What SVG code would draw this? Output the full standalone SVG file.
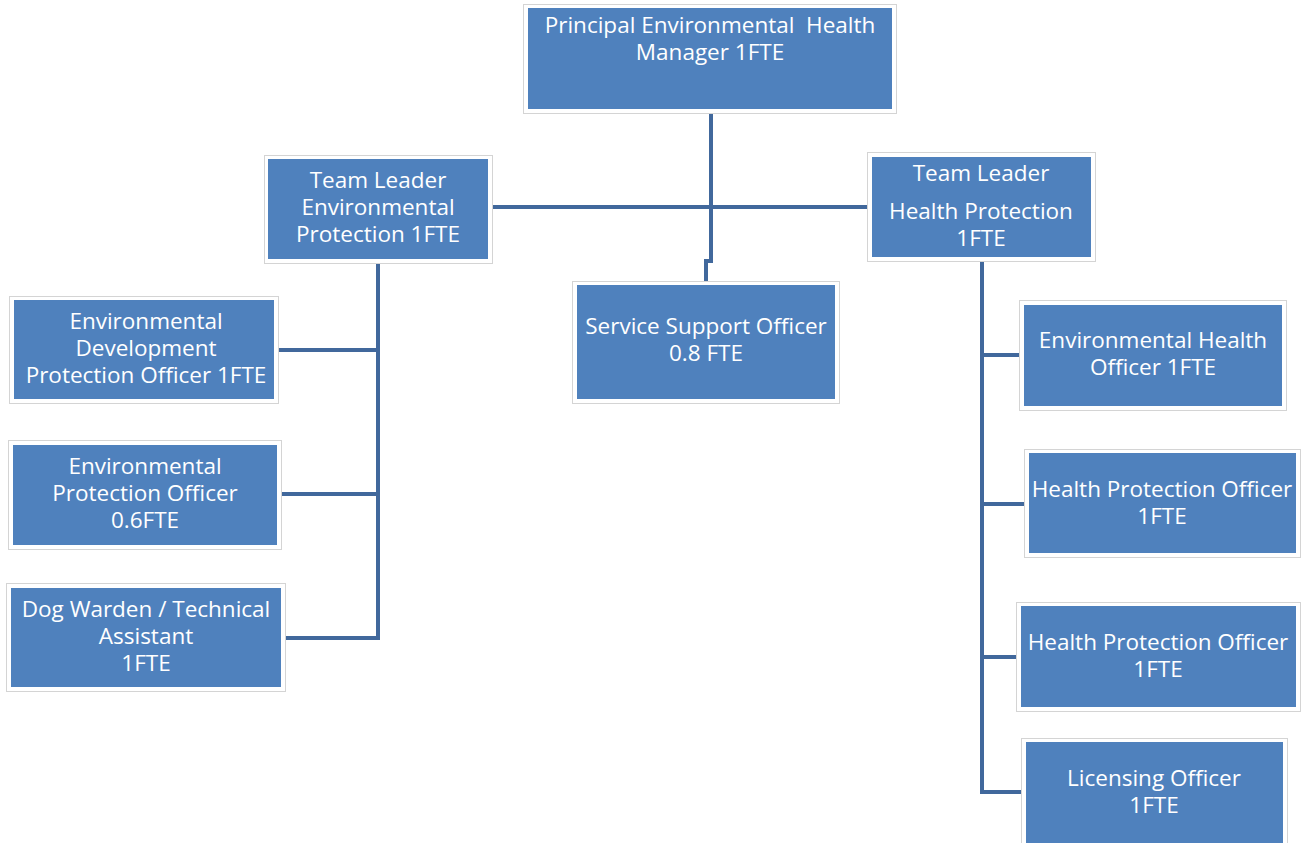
<svg xmlns="http://www.w3.org/2000/svg" width="1307" height="843" viewBox="0 0 1307 843">
<style>
.frame{fill:#fff;stroke:#d4d4d4;stroke-width:1}
.box{fill:#4f81bd}
.t{font-family:"Open Sans","Liberation Sans",sans-serif;font-size:22.5px;fill:#fff;text-anchor:middle}
.c{fill:none;stroke:#41689c;stroke-width:4;stroke-linejoin:miter}
</style>
<rect width="1307" height="843" fill="#fff"/>
<g id="connectors">
<path class="c" d="M711 113 V261 H706 V281"/>
<path class="c" d="M492 207 H867"/>
<path class="c" d="M378 263 V638 H285"/>
<path class="c" d="M278 350 H378"/>
<path class="c" d="M281 494 H378"/>
<path class="c" d="M982 261 V792 H1021"/>
<path class="c" d="M982 355 H1019"/>
<path class="c" d="M982 504 H1024"/>
<path class="c" d="M982 657 H1016"/>
</g>
<g id="principal">
<rect class="frame" x="523.5" y="4.5" width="373" height="109"/>
<rect class="box" x="528" y="8" width="364" height="101"/>
<text class="t" x="710" y="33" xml:space="preserve">Principal Environmental  Health</text>
<text class="t" x="710" y="60">Manager 1FTE</text>
</g>
<g id="tl-env">
<rect class="frame" x="264.5" y="155.5" width="228" height="108"/>
<rect class="box" x="268" y="159" width="220" height="100"/>
<text class="t" x="378" y="188">Team Leader</text>
<text class="t" x="378" y="215">Environmental</text>
<text class="t" x="378" y="242">Protection 1FTE</text>
</g>
<g id="tl-health">
<rect class="frame" x="867.5" y="152.5" width="228" height="109"/>
<rect class="box" x="872" y="157" width="219" height="100"/>
<text class="t" x="981" y="181">Team Leader</text>
<text class="t" x="981" y="219">Health Protection</text>
<text class="t" x="981" y="246">1FTE</text>
</g>
<g id="service-support">
<rect class="frame" x="572.5" y="281.5" width="267" height="122"/>
<rect class="box" x="577" y="285" width="258" height="114"/>
<text class="t" x="706" y="334">Service Support Officer</text>
<text class="t" x="706" y="361">0.8 FTE</text>
</g>
<g id="env-dev">
<rect class="frame" x="9.5" y="296.5" width="269" height="107"/>
<rect class="box" x="14" y="300" width="260" height="99"/>
<text class="t" x="146" y="329">Environmental</text>
<text class="t" x="146" y="356">Development</text>
<text class="t" x="146" y="383">Protection Officer 1FTE</text>
</g>
<g id="env-prot">
<rect class="frame" x="8.5" y="440.5" width="273" height="109"/>
<rect class="box" x="13" y="445" width="264" height="100"/>
<text class="t" x="145" y="474">Environmental</text>
<text class="t" x="145" y="501">Protection Officer</text>
<text class="t" x="145" y="528">0.6FTE</text>
</g>
<g id="dog-warden">
<rect class="frame" x="6.5" y="583.5" width="279" height="108"/>
<rect class="box" x="11" y="588" width="270" height="99"/>
<text class="t" x="146" y="617">Dog Warden / Technical</text>
<text class="t" x="146" y="644">Assistant</text>
<text class="t" x="146" y="671">1FTE</text>
</g>
<g id="eho">
<rect class="frame" x="1019.5" y="300.5" width="267" height="110"/>
<rect class="box" x="1024" y="305" width="258" height="101"/>
<text class="t" x="1153" y="348">Environmental Health</text>
<text class="t" x="1153" y="375">Officer 1FTE</text>
</g>
<g id="hpo1">
<rect class="frame" x="1024.5" y="449.5" width="276" height="108"/>
<rect class="box" x="1029" y="453" width="267" height="100"/>
<text class="t" x="1162" y="497">Health Protection Officer</text>
<text class="t" x="1162" y="524">1FTE</text>
</g>
<g id="hpo2">
<rect class="frame" x="1016.5" y="602.5" width="284" height="109"/>
<rect class="box" x="1021" y="606" width="275" height="101"/>
<text class="t" x="1158" y="650">Health Protection Officer</text>
<text class="t" x="1158" y="677">1FTE</text>
</g>
<g id="licensing">
<rect class="frame" x="1021.5" y="738.5" width="266" height="110"/>
<rect class="box" x="1026" y="742" width="257" height="105"/>
<text class="t" x="1154" y="786">Licensing Officer</text>
<text class="t" x="1154" y="813">1FTE</text>
</g>
</svg>
